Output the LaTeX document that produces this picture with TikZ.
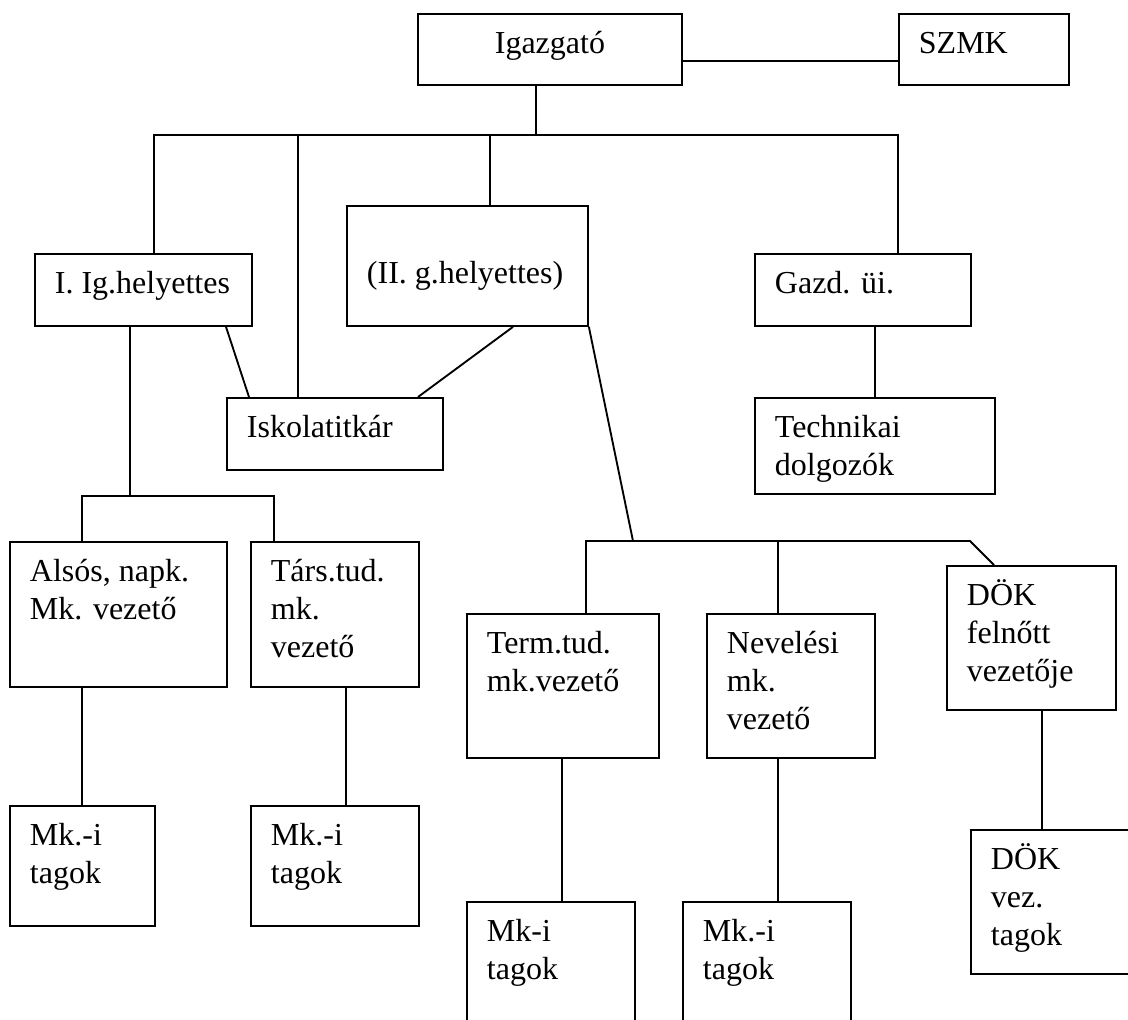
\documentclass[tikz,border=0pt]{standalone}
\usepackage{fontspec}
\setmainfont{Liberation Serif}
\usetikzlibrary{calc}

\newdimen\pxu \pxu=0.375pt
\newcommand{\cell}[3]{\parbox[t][#2\pxu][t]{#1\pxu}{\raggedright\leftskip=20\pxu\rule{0pt}{15pt}#3}}
\newcommand{\ccell}[3]{\parbox[t][#2\pxu][t]{#1\pxu}{\centering\rule{0pt}{15pt}#3}}

\begin{document}
\begin{tikzpicture}[
  x=0.375pt, y=-0.375pt,
  obox/.style={draw,line width=0.7pt,anchor=north west,inner sep=0pt,
    font=\fontsize{12}{14.1}\selectfont},
  link/.style={line width=0.7pt},
]
  \clip (0,0) rectangle (1128,1020);

  \node[obox] (igaz) at (417,13) {\ccell{264}{71}{Igazgató}};
  \node[obox] (szmk) at (898,13) {\cell{170}{71}{SZMK}};
  \node[obox] (ig1) at (34,253) {\cell{217}{72}{I. Ig.helyettes}};
  \node[obox] (ig2) at (346,205) {\cell{241}{120}{\mbox{}\\(II. g.helyettes)}};
  \node[obox] (gazd) at (754,253) {\cell{216}{72}{Gazd. üi.}};
  \node[obox] (titk) at (226,397) {\cell{216}{72}{Iskolatitkár}};
  \node[obox] (tech) at (754,397) {\cell{240}{96}{Technikai\\dolgozók}};
  \node[obox] (also) at (9,541) {\cell{217}{145}{Alsós, napk.\\Mk. vezető}};
  \node[obox] (tars) at (250,541) {\cell{168}{145}{Társ.tud.\\mk.\\vezető}};
  \node[obox] (term) at (466,613) {\cell{192}{144}{Term.tud.\\mk.vezető}};
  \node[obox] (nev) at (706,613) {\cell{168}{144}{Nevelési\\mk.\\vezető}};
  \node[obox] (dok) at (946,565) {\cell{169}{144}{DÖK\\felnőtt\\vezetője}};
  \node[obox] (mk1) at (9,805) {\cell{145}{120}{Mk.-i\\tagok}};
  \node[obox] (mk2) at (250,805) {\cell{168}{120}{Mk.-i\\tagok}};
  \node[obox] (mk3) at (466,901) {\cell{168}{150}{Mk-i\\tagok}};
  \node[obox] (mk4) at (682,901) {\cell{168}{150}{Mk.-i\\tagok}};
  \node[obox] (dokv) at (970,829) {\cell{180}{144}{DÖK\\vez.\\tagok}};

  % junctions
  \coordinate (top) at ($(igaz.south west)+(119,49)$);
  \coordinate (bl) at ($(ig1.south west)+(96,169)$);
  \coordinate (br) at ($(term.north west)+(167,-72)$);
  \coordinate (brR) at ($(dok.north west)+(24,-24)$);

  % Igazgató with SZMK and the top bar
  \draw[link] ($(igaz.north east)+(0,48)$) -- ($(szmk.north west)+(0,48)$);
  \draw[link] (igaz.south west) ++(119,0) -- (top);
  \draw[link] (ig1.north west) ++(120,0) |- (top) -| ($(gazd.north west)+(144,0)$);
  \draw[link] (titk.north west) ++(72,0) |- (top);
  \draw[link] (ig2.north west) ++(144,0) |- (top);

  % Iskolatitkár
  \draw[link] (ig1.south west) ++(192,0) -- ($(titk.north west)+(23,0)$);
  \draw[link] (ig2.south west) ++(167,0) -- ($(titk.north west)+(192,0)$);

  % Gazd. üi.
  \draw[link] (tech.north) -- (tech.north |- gazd.south);

  % left branch
  \draw[link] (ig1.south west) ++(96,0) -- (bl);
  \draw[link] (also.north west) ++(73,0) |- (bl) -| ($(tars.north west)+(24,0)$);
  \draw[link] (also.south west) ++(73,0) -- ($(mk1.north west)+(73,0)$);
  \draw[link] (tars.south west) ++(96,0) -- ($(mk2.north west)+(96,0)$);

  % right branch
  \draw[link] (ig2.south east) -- (br);
  \draw[link] (term.north west) ++(120,0) |- (brR) -- ($(dok.north west)+(48,0)$);
  \draw[link] (nev.north west) ++(72,0) |- (br);
  \draw[link] (term.south west) ++(96,0) -- ($(mk3.north west)+(96,0)$);
  \draw[link] (nev.south west) ++(72,0) -- ($(mk4.north west)+(96,0)$);
  \draw[link] (dok.south west) ++(96,0) -- ($(dokv.north west)+(72,0)$);
\end{tikzpicture}
\end{document}
